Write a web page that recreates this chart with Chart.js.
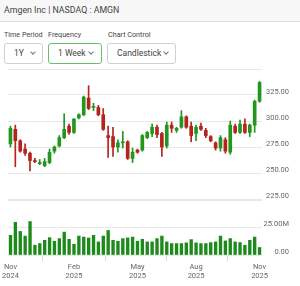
<!DOCTYPE html>
<html><head><meta charset="utf-8">
<script src="https://cdn.jsdelivr.net/npm/chart.js@4/dist/chart.umd.min.js"></script>
<style>
html,body{margin:0;padding:0;background:#fff;width:300px;height:286px;overflow:hidden;font-family:Roboto,"Noto Sans",sans-serif;}
#hdr{position:absolute;left:0;top:0;width:300px;height:21px;background:#f7f7f7;border-bottom:1px solid #e2e2e2;font-size:8.8px;color:#444;line-height:20px;text-indent:4px;}
.lbl{position:absolute;top:30px;font-size:7.2px;color:#444;}
.dd{position:absolute;top:43px;height:19px;border:1px solid #d0d0d0;border-radius:3px;font-size:8.5px;color:#444;line-height:19px;box-sizing:content-box;}
.dd span.t{position:absolute;top:0;}
.chev{position:absolute;top:6px;width:3px;height:3px;border-right:1px solid #777;border-bottom:1px solid #777;transform:rotate(45deg);}
canvas{position:absolute;left:0;}
</style></head><body>
<div id="hdr">Amgen Inc | NASDAQ : AMGN</div>
<div class="lbl" style="left:4px">Time Period</div>
<div class="lbl" style="left:48px">Frequency</div>
<div class="lbl" style="left:108px">Chart Control</div>
<div class="dd" style="left:4px;width:37px"><span class="t" style="left:9px">1Y</span><span class="chev" style="left:26px"></span></div>
<div class="dd" style="left:48px;width:52px;border-color:#6cbf6c"><span class="t" style="left:9px">1 Week</span><span class="chev" style="left:40px"></span></div>
<div class="dd" style="left:107px;width:67px"><span class="t" style="left:9px">Candlestick</span><span class="chev" style="left:56px"></span></div>
<canvas id="price" width="300" height="150" style="top:60px;width:300px;height:150px"></canvas>
<canvas id="vol" width="300" height="91" style="top:195px;width:300px;height:91px"></canvas>
<script>
const weeks = ["2024-11-04","2024-11-11","2024-11-18","2024-11-25","2024-12-02","2024-12-09","2024-12-16","2024-12-23","2024-12-30",
"2025-01-06","2025-01-13","2025-01-20","2025-01-27","2025-02-03","2025-02-10","2025-02-17","2025-02-24","2025-03-03","2025-03-10",
"2025-03-17","2025-03-24","2025-03-31","2025-04-07","2025-04-14","2025-04-21","2025-04-28","2025-05-05","2025-05-12","2025-05-19",
"2025-05-26","2025-06-02","2025-06-09","2025-06-16","2025-06-23","2025-06-30","2025-07-07","2025-07-14","2025-07-21","2025-07-28",
"2025-08-04","2025-08-11","2025-08-18","2025-08-25","2025-09-01","2025-09-08","2025-09-15","2025-09-22","2025-09-29","2025-10-06",
"2025-10-13","2025-10-20","2025-10-27"];
const openP  = [278,292,281,273,269,262,259,257,260,271,276,284,295,289,303,306,322,313,313,306,286,285,275,279,280,264,272,272,284,288,294,288,276,296,291,294,304,295,288,295,291,285,279,274,282,270,295,289,297,289,296,319];
const highP  = [295,296,282,278,270,264,263,264,273,276,286,307,297,302,307,324,334,317,315,312,295,294,282,290,281,274,273,287,290,297,296,289,299,299,294,310,305,299,296,298,293,286,280,286,284,300,297,301,302,297,320,338];
const lowP   = [275,256,270,267,252,260,258,256,259,269,275,283,287,288,302,305,311,310,305,291,265,266,270,274,263,260,269,271,283,285,284,266,274,289,289,293,293,280,281,291,284,280,272,271,269,268,288,288,288,285,289,318];
const closeP = [293,281,271,269,262,261,260,261,270,275,284,292,289,302,306,323,312,314,306,292,284,275,279,280,264,270,270,286,289,294,287,275,296,293,293,304,294,286,294,292,286,281,274,284,271,296,289,297,289,296,319,337];
const volumeM = [17.9,29.7,21.4,17.2,30.4,8.9,10.4,13.4,15.8,12.5,14.9,20.8,14.3,9.8,17.2,16.3,15.5,17.9,11.9,17.2,22.3,13.4,12.5,14.9,15.5,16.3,12.5,14.3,11.9,11.9,14.9,17.2,11.9,10.4,10.4,10.4,11,14,11,10.4,10.4,11.3,11.9,17.2,12.8,14.9,11.9,11.3,8.9,13.4,16.3,6.8];
const xTickIdx = [0,13,26,38,51];
const xTickLabels = [["Nov","2024"],["Feb","2025"],["May","2025"],["Aug","2025"],["Nov","2025"]];
const priceTicks = [225,250,275,300,325,350];
const volTicks = [0,25,50];

const GREEN = '#22961f', RED = '#b3241d', VOLGREEN = '#1d8a1b';
const upColor = i => closeP[i] >= openP[i] ? GREEN : RED;
const FONT = {family:'Roboto, "Noto Sans", sans-serif', size:7.5};
const fixW = s => { s.width = 27; };

new Chart(document.getElementById('price'), {
  type:'bar',
  data:{labels:weeks, datasets:[
    {data:weeks.map((w,i)=>[lowP[i],highP[i]]), grouped:false, barThickness:1, order:2,
     backgroundColor:c=>upColor(c.dataIndex), borderWidth:0},
    {data:weeks.map((w,i)=>[openP[i],closeP[i]]), grouped:false, barThickness:3, minBarLength:1, order:1,
     backgroundColor:c=>upColor(c.dataIndex), borderWidth:0}
  ]},
  options:{responsive:false, animation:false, events:[],
    layout:{padding:{left:8,right:11,top:9,bottom:11}},
    plugins:{legend:{display:false}, tooltip:{enabled:false}},
    scales:{
      x:{display:false, offset:true},
      y:{position:'right', min:225, max:350, afterFit:fixW,
        afterBuildTicks:s=>{s.ticks = priceTicks.map(v=>({value:v}));},
        border:{display:false},
        grid:{color:'#e8e8e8', drawTicks:false},
        ticks:{crossAlign:'far', padding:0, labelOffset:-3, color:'#666', font:FONT,
          callback:v=> v===350 ? '' : v.toFixed(2)}}
    }}
});

new Chart(document.getElementById('vol'), {
  type:'bar',
  data:{labels:weeks, datasets:[
    {data:volumeM, barThickness:2.7, backgroundColor:VOLGREEN, borderWidth:0}
  ]},
  options:{responsive:false, animation:false, events:[],
    layout:{padding:{left:8,right:11,top:5,bottom:0}},
    plugins:{legend:{display:false}, tooltip:{enabled:false}},
    scales:{
      x:{offset:true,
        afterBuildTicks:s=>{s.ticks = xTickIdx.map(v=>({value:v}));},
        afterFit:s=>{s.height = 31;},
        border:{display:false},
        grid:{drawOnChartArea:false, color:'#d8d8d8', tickLength:6},
        ticks:{autoSkip:false, maxRotation:0, padding:2, color:'#666', font:FONT,
          callback:(v)=>{const k = xTickIdx.indexOf(v); return k>=0 ? xTickLabels[k] : '';}}},
      y:{position:'right', min:0, max:50, afterFit:fixW,
        afterBuildTicks:s=>{s.ticks = volTicks.map(v=>({value:v}));},
        border:{display:false},
        grid:{color:'#e8e8e8', drawTicks:false},
        ticks:{crossAlign:'far', padding:0, labelOffset:-3, color:'#666', font:FONT,
          callback:v=> v===50 ? '' : (v===0 ? '0.00' : v.toFixed(2)+'M')}}
    }}
});
</script>
</body></html>
